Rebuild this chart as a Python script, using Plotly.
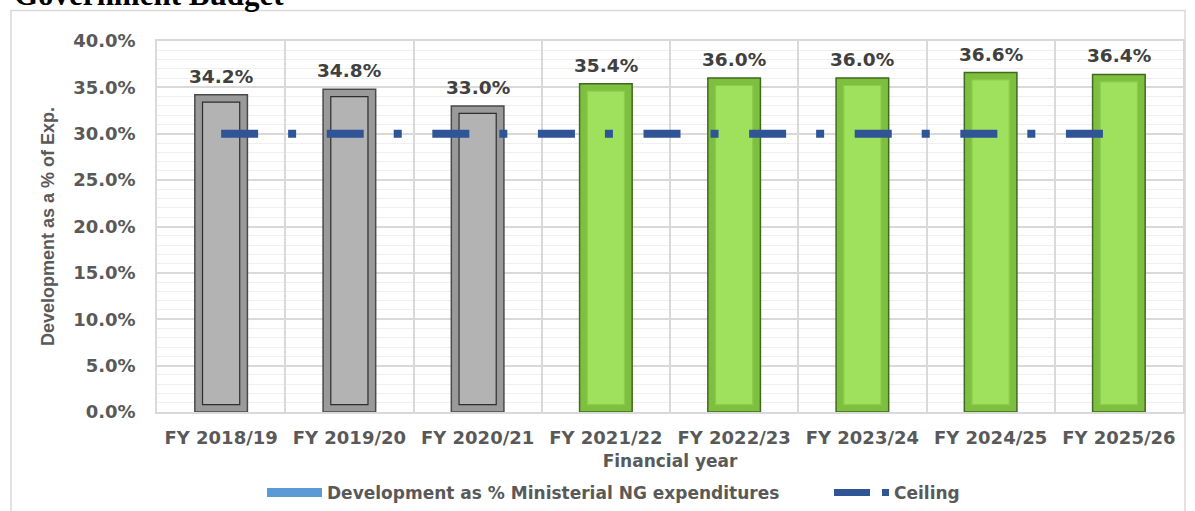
import plotly.graph_objects as go

# Financial years and development share of ministerial NG expenditure
years = ["FY 2018/19", "FY 2019/20", "FY 2020/21", "FY 2021/22",
         "FY 2022/23", "FY 2023/24", "FY 2024/25", "FY 2025/26"]
dev_share = [0.342, 0.348, 0.330, 0.354, 0.360, 0.360, 0.366, 0.364]
ceiling = [0.30, 0.30, 0.30, 0.30, 0.30, 0.30, 0.30, 0.30]
is_projection = [False, False, False, True, True, True, True, True]

y_ticks = [0.0, 0.05, 0.10, 0.15, 0.20, 0.25, 0.30, 0.35, 0.40]

# Bevel styling: outer frame + inner face
frame_col = ["#7fbf3f" if p else "#9a9a9a" for p in is_projection]
frame_line = ["#3f6a1f" if p else "#4a4a4a" for p in is_projection]
face_col = ["#9fe05c" if p else "#b3b3b3" for p in is_projection]
face_line = ["#8ccc4c" if p else "#2e2e2e" for p in is_projection]
bevel = 0.008

TICK_FONT = dict(family="DejaVu Sans", size=18, color="#595959")
LABEL_FONT = dict(family="DejaVu Sans", size=18.5, color="#404040")
LEGEND_FONT = dict(family="DejaVu Sans", size=17, color="#595959")
BLUE = "#2f5597"

fig = go.Figure()

# Outer bar (frame)
fig.add_trace(go.Bar(
    x=years, y=dev_share, width=0.41,
    marker=dict(color=frame_col, line=dict(color=frame_line, width=1.5)),
    showlegend=False, hoverinfo="skip",
))
# Inner face of the bevelled bar
fig.add_trace(go.Bar(
    x=years, y=[v - 2 * bevel for v in dev_share], base=bevel, width=0.29,
    marker=dict(color=face_col, line=dict(color=face_line, width=1.2)),
    showlegend=False, hoverinfo="skip",
))

# Ceiling line (long dash - dot)
fig.add_trace(go.Scatter(
    x=years, y=ceiling, mode="lines",
    line=dict(color=BLUE, width=8, dash="37px,30px,8px,30.6px"),
    showlegend=False, hoverinfo="skip",
))

# Legend entries, each in its own legend box
fig.add_trace(go.Scatter(
    x=[None], y=[None], mode="lines",
    line=dict(color="#5b9bd5", width=9),
    name="<b>Development as % Ministerial NG expenditures</b>",
    legend="legend",
))
fig.add_trace(go.Scatter(
    x=[None], y=[None], mode="lines",
    line=dict(color=BLUE, width=7, dash="36px,12px,8px,40px"),
    name="<b>Ceiling</b>",
    legend="legend2",
))

# Value labels above each bar
value_labels = [
    dict(x=yr, y=v, xref="x", yref="y", text=f"<b>{v*100:.1f}%</b>",
         showarrow=False, yanchor="bottom", yshift=6, font=LABEL_FONT)
    for yr, v in zip(years, dev_share)
]

legend_common = dict(orientation="h", yanchor="middle", y=-0.218, xanchor="left",
                     font=LEGEND_FONT, itemwidth=55, bgcolor="rgba(0,0,0,0)")

fig.update_layout(
    width=1195, height=511,
    margin=dict(l=157, r=12, t=40.5, b=99, autoexpand=False),
    paper_bgcolor="white", plot_bgcolor="white",
    barmode="overlay",
    font=dict(family="DejaVu Sans", color="#595959"),
    legend=dict(x=(262 - 157) / 1026, **legend_common),
    legend2=dict(x=(829 - 157) / 1026, **legend_common),
    xaxis=dict(
        type="category", tickson="boundaries", showgrid=True,
        gridcolor="#d9d9d9", gridwidth=1.5,
        showline=True, linecolor="#d9d9d9", linewidth=1.5, mirror=True,
        ticks="", tickfont=TICK_FONT, ticklabelstandoff=9,
        tickvals=years, ticktext=[f"<b>{y}</b>" for y in years],
        automargin=False,
        title=dict(text="<b>Financial year</b>", standoff=8,
                   font=dict(family="DejaVu Sans", size=17, color="#595959")),
    ),
    yaxis=dict(
        range=[0, 0.40], tickvals=y_ticks,
        ticktext=[f"<b>{v*100:.1f}%</b>" for v in y_ticks],
        showgrid=True, gridcolor="#d9d9d9", gridwidth=1.5,
        minor=dict(dtick=0.01, showgrid=True, gridcolor="#efefef", gridwidth=1),
        showline=True, linecolor="#d9d9d9", linewidth=1.5, mirror=True,
        ticks="", tickfont=TICK_FONT, ticklabelstandoff=16,
        zeroline=False, automargin=False,
        title=dict(text="<b>Development as a % of Exp.</b>", standoff=14,
                   font=dict(family="Liberation Sans Narrow, Liberation Sans",
                             size=18, color="#595959")),
    ),
    shapes=[
        dict(type="rect", xref="paper", yref="paper",
             x0=-0.1423, x1=1.002, y0=-0.6, y1=1.0821,
             line=dict(color="#d9d9d9", width=1.5), fillcolor="rgba(0,0,0,0)",
             layer="below"),
    ],
    annotations=value_labels + [
        dict(text="<b>Government Budget</b>", xref="paper", yref="paper",
             x=-0.1413, y=1.073, xanchor="left", yanchor="bottom",
             showarrow=False,
             font=dict(family="Liberation Serif", size=31, color="black")),
    ],
)

fig.write_html("out.html")
